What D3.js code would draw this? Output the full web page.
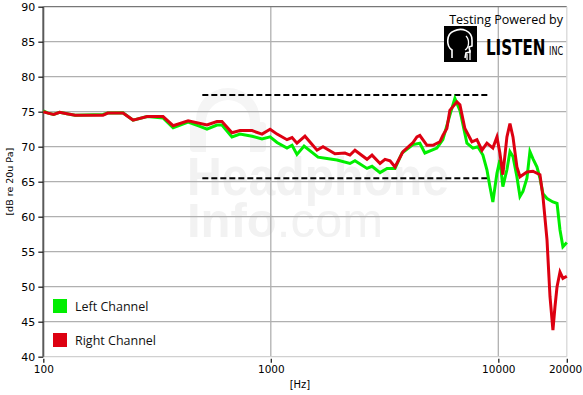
<!DOCTYPE html>
<html><head><meta charset="UTF-8">
<script src="https://d3js.org/d3.v7.min.js"></script>
<style>
body{margin:0;background:#fff;overflow:hidden}
text{font-family:"DejaVu Sans",Verdana,sans-serif}
</style></head><body><div id="chart"></div>
<script>
const W = 583, H = 395;

// frequency response
const leftFreq = [100,105,111,118,127,138,183,192,224,248,286,336,372,433,488,524,580,610,675,732,827,915,993,1065,1178,1240,1303,1400,1613,1766,1954,2228,2344,2647,2785,3020,3243,3515,3773,4217,4520,4757,5370,5704,6124,6442,6779,7278,7731,8132,8556,8912,9183,9463,9862,10160,10470,10910,11250,11600,12070,12450,12830,13360,13770,14190,14790,15240,15710,16370,17380,18120,18670,19230,20000];
const leftDb = [75.1,74.8,74.6,74.9,74.7,74.5,74.6,74.8,74.85,73.8,74.3,74.1,72.7,73.5,72.9,72.5,73.1,73.1,71.4,71.8,71.5,71.1,71.4,70.6,69.8,70.2,68.9,70.1,68.5,68.3,68.1,67.6,68.0,66.9,67.2,66.3,66.9,66.9,69.1,70.3,70.5,69.1,69.8,71.0,74.5,76.9,75.2,70.5,69.8,70.0,68.8,66.7,64.3,62.1,66.2,68.1,64.3,66.7,69.3,68.6,65.7,62.9,63.6,65.5,69.3,68.3,67.1,65.5,63.3,62.6,62.1,61.9,58.1,55.7,56.3];

const rightFreq = [100,105,111,118,127,138,183,192,224,248,286,336,372,433,524,580,610,675,732,827,915,993,1065,1178,1240,1303,1413,1596,1696,1914,2118,2228,2344,2647,2785,3020,3177,3343,3515,3811,4217,4387,4520,4857,5156,5534,5704,5940,6124,6577,6779,7129,7654,8053,8472,8912,9463,9862,10160,10470,10910,11250,11600,12070,12450,13360,14190,15240,15710,16370,16870,17380,17740,18120,18670,19230,20000];
const rightDb = [75.0,74.8,74.6,74.9,74.7,74.5,74.5,74.8,74.8,73.8,74.3,74.3,73.0,73.7,73.1,73.6,73.6,72.0,72.3,72.3,71.8,72.5,71.8,71.0,71.3,70.5,71.5,69.5,70.0,69.0,69.1,68.8,69.5,68.2,68.8,67.6,68.2,68.0,67.1,69.3,70.6,71.4,71.6,70.2,70.2,70.7,71.6,72.6,75.2,76.4,76.0,72.6,70.7,71.0,69.5,70.5,69.8,71.4,69.1,66.0,71.4,73.3,71.4,67.1,65.7,66.4,66.5,66.0,62.9,56.7,48.6,43.8,47.1,50.0,52.1,51.2,51.5];

// tolerance band (dashed)
const bandFreq = [500, 9000];
const bandUpper = 77.4;
const bandLower = 65.5;

const yTicks = [40,45,50,55,60,65,70,75,80,85,90];
const xTicks = [100,1000,10000,20000];
const legendNames = ["Left Channel","Right Channel"];
const legendColors = ["#00ee00","#dd0011"];

const m = {left:43.3, top:6.7, right:W-566.8, bottom:H-356.7};
const x = d3.scaleLog().domain([100,20000]).range([m.left, W-m.right]);
const y = d3.scaleLinear().domain([40,90]).range([H-m.bottom, m.top]);

const svg = d3.select("#chart").append("svg").attr("width",W).attr("height",H);

// watermark
const wm = svg.append("g").attr("fill","#f2f2f2");
wm.append("path")
  .attr("d","M196,152 L196,120 A32,32 0 0 1 260,120 L260,152 L250,152 L250,122 A22,22 0 0 0 206,122 L206,152 Z")
  .attr("fill","#f5f5f5");
wm.append("rect").attr("x",190).attr("y",122).attr("width",12).attr("height",30).attr("rx",4).attr("fill","#f5f5f5");
wm.append("rect").attr("x",254).attr("y",122).attr("width",12).attr("height",30).attr("rx",4).attr("fill","#f5f5f5");
const wt = wm.append("text").style("font-family","'Liberation Sans',Arial,sans-serif");
wt.append("tspan").attr("x",187).attr("y",195).attr("textLength",262).attr("lengthAdjust","spacingAndGlyphs")
  .style("font-weight","bold").style("font-size","53px").text("Headphone");
wt.append("tspan").attr("x",187).attr("y",237).style("font-weight","bold").style("font-size","49px").text("Info");
wt.append("tspan").style("font-weight","normal").style("font-size","49px").text(".com");

// grid
svg.append("g").selectAll("line").data(yTicks.filter(v => v > 40 && v < 90)).join("line")
  .attr("x1",x(100)).attr("x2",x(20000)).attr("y1",d=>y(d)).attr("y2",d=>y(d))
  .attr("stroke","#b0b0b0").attr("stroke-width",1.3);
svg.append("g").selectAll("line").data([1000,10000]).join("line")
  .attr("x1",d=>x(d)).attr("x2",d=>x(d)).attr("y1",y(90)).attr("y2",y(40))
  .attr("stroke","#b0b0b0").attr("stroke-width",1.3);

// frame
svg.append("line").attr("x1",x(100)).attr("x2",x(20000)).attr("y1",y(90)).attr("y2",y(90)).attr("stroke","#777").attr("stroke-width",1.3);
svg.append("line").attr("x1",x(20000)).attr("x2",x(20000)).attr("y1",y(90)).attr("y2",y(40)).attr("stroke","#d8d8d8").attr("stroke-width",1.3);
svg.append("line").attr("x1",x(100)).attr("x2",x(20000)).attr("y1",y(40)).attr("y2",y(40)).attr("stroke","#d0d0d0").attr("stroke-width",1.3);

// axes
const yAxis = svg.append("g").attr("transform",`translate(${m.left},0)`)
  .call(d3.axisLeft(y).tickValues(yTicks).tickSize(5).tickPadding(3));
const xAxis = svg.append("g").attr("transform",`translate(0,${H-m.bottom+2})`)
  .call(d3.axisBottom(x).tickValues(xTicks).tickFormat(d3.format("d")).tickSize(4).tickPadding(3));
yAxis.selectAll("text").style("font-size","11px").attr("fill","#000");
xAxis.selectAll("text").style("font-size","10.5px").attr("fill","#000");
[yAxis, xAxis].forEach(a => a.selectAll(".tick line").attr("stroke","#222").attr("stroke-width",1.3));
// keep the last label inside the window
xAxis.selectAll(".tick").filter(d => d === 20000).select("text").attr("text-anchor","end").attr("dx","15");
xAxis.select(".domain").remove();
yAxis.select(".domain").attr("d",`M0,${y(90)}V${y(40)}`).attr("stroke","#5a5a5a").attr("stroke-width",2);

svg.append("text").attr("x",300).attr("y",388).attr("text-anchor","middle").style("font-size","10px").text("[Hz]");
svg.append("text").attr("transform",`translate(13,${(y(90)+y(40))/2}) rotate(-90)`)
  .attr("text-anchor","middle").style("font-size","9.5px").text("[dB re 20u Pa]");

// dashed band
svg.append("g").selectAll("line").data([bandUpper,bandLower]).join("line")
  .attr("x1",x(bandFreq[0])).attr("x2",x(bandFreq[1])).attr("y1",d=>y(d)).attr("y2",d=>y(d))
  .attr("stroke","#000").attr("stroke-width",2).attr("stroke-dasharray","6,3");

// curves
const line = d3.line().x(d=>x(d[0])).y(d=>y(d[1]));
svg.append("path").datum(d3.zip(leftFreq,leftDb)).attr("d",line)
  .attr("fill","none").attr("stroke",legendColors[0]).attr("stroke-width",3).attr("stroke-linejoin","miter");
svg.append("path").datum(d3.zip(rightFreq,rightDb)).attr("d",line)
  .attr("fill","none").attr("stroke",legendColors[1]).attr("stroke-width",3).attr("stroke-linejoin","miter");

// legend
const lg = svg.append("g").selectAll("g").data(legendNames).join("g")
  .attr("transform",(d,i)=>`translate(53,${299+i*34})`);
lg.append("rect").attr("width",14).attr("height",14).attr("fill",(d,i)=>legendColors[i]);
lg.append("text").attr("x",22).attr("y",11.5).style("font-family","'Open Sans','Noto Sans',sans-serif")
  .style("font-size","12.5px").attr("fill","#111").text(d=>d);

// "Testing Powered by" badge
const badge = svg.append("g");
badge.append("text").attr("x",563).attr("y",24).attr("text-anchor","end")
  .style("font-family","'Open Sans','Noto Sans',sans-serif").style("font-size","12.5px").text("Testing Powered by");
badge.append("rect").attr("x",444).attr("y",26).attr("width",33).attr("height",36).attr("fill","#000");
badge.append("path")
  .attr("d","M452,58 L452,50 C446,46 446,34 454,31 C462,27 472,31 472,40 L472,46 L469,47 L470,52 L466,53 L465,58")
  .attr("fill","none").attr("stroke","#fff").attr("stroke-width",1.6);
badge.append("path").attr("d","M466,36 C470,40 469,48 465,50 M467,54 L467,60 M470,50 L470,60")
  .attr("fill","none").attr("stroke","#fff").attr("stroke-width",1.3);
// condensed wordmark: squeeze horizontally so the box really is narrow
badge.append("text").attr("transform","translate(486,55) scale(0.8,1)")
  .style("font-family","'DejaVu Sans Condensed','DejaVu Sans',sans-serif")
  .style("font-weight","bold").style("font-size","21px").text("LISTEN");
badge.append("text").attr("transform","translate(549,55) scale(0.75,1)")
  .style("font-family","'DejaVu Sans Condensed','DejaVu Sans',sans-serif")
  .style("font-size","12px").text("INC");
</script></body></html>
